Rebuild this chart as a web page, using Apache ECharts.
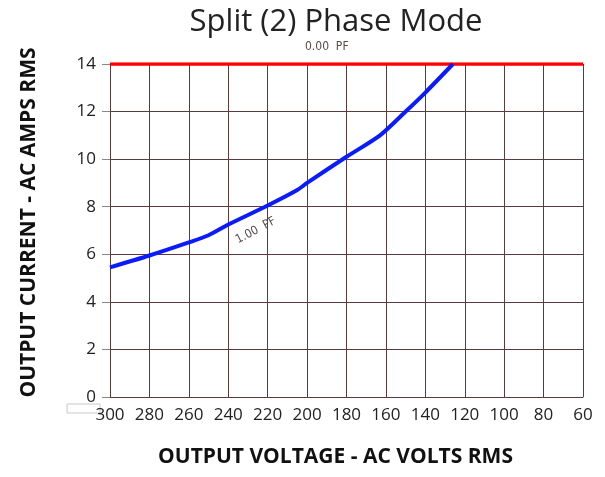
<!DOCTYPE html>
<html>
<head>
<meta charset="utf-8">
<script src="https://cdn.jsdelivr.net/npm/echarts@6/dist/echarts.min.js"></script>
<style>
  html, body { margin: 0; padding: 0; background: #fff; }
  #chart { width: 605px; height: 477px; }
</style>
</head>
<body>
<div id="chart"></div>
<script>
// output voltage (V) vs output current (A)
const voltsPf1 = [300, 280, 260, 250, 240, 220, 205, 200, 180, 163, 150, 140, 126]
const ampsPf1 = [5.45, 5.95, 6.5, 6.8, 7.25, 8.05, 8.7, 9.0, 10.1, 11.0, 12.0, 12.8, 14]
const voltsPf0 = [300, 60]
const ampsPf0 = [14, 14]

const gridColor = '#5b3b3b'
const chart = echarts.init(document.getElementById('chart'))

const pair = (xs, ys) => xs.map((x, i) => [x, ys[i]])

const option = {
    animation: false,
    title: {
        text: 'Split (2) Phase Mode',
        left: 331,
        top: 2,
        textAlign: 'center',
        textStyle: { fontFamily: 'Open Sans', fontWeight: 'normal', fontSize: 31, color: '#222' }
    },
    grid: { left: 110, right: 22, top: 64, bottom: 80 },
    xAxis: {
        type: 'value',
        inverse: true,
        min: 60,
        max: 300,
        interval: 20,
        name: 'OUTPUT VOLTAGE - AC VOLTS RMS',
        nameLocation: 'middle',
        nameGap: 50,
        nameTextStyle: { fontFamily: 'Open Sans', fontWeight: 'bold', fontSize: 21, color: '#111', padding: [0, 22, 0, 0] },
        axisLine: { show: true, lineStyle: { color: gridColor, width: 1 } },
        axisTick: { show: false },
        axisLabel: { fontFamily: 'Open Sans', fontSize: 17, color: '#222', margin: 10 },
        splitLine: { show: true, lineStyle: { color: gridColor, width: 1 } }
    },
    yAxis: {
        type: 'value',
        min: 0,
        max: 14,
        interval: 2,
        name: 'OUTPUT CURRENT - AC AMPS RMS',
        nameLocation: 'middle',
        nameGap: 70,
        nameTextStyle: { fontFamily: 'Open Sans', fontWeight: 'bold', fontSize: 21, color: '#111', padding: [0, 0, 0, 16] },
        axisLine: { show: true, lineStyle: { color: gridColor, width: 1 } },
        axisTick: { show: true, length: 8, lineStyle: { color: '#888' } },
        axisLabel: { fontFamily: 'Open Sans', fontSize: 17, color: '#222', margin: 14 },
        splitLine: { show: true, lineStyle: { color: gridColor, width: 1 } }
    },
    series: [
        {
            name: '0.00 PF',
            type: 'line',
            data: pair(voltsPf0, ampsPf0),
            symbol: 'none',
            lineStyle: { color: '#ff0000', width: 3.5 },
            z: 3,
            markPoint: {
                symbol: 'circle',
                symbolSize: 0,
                data: [{ coord: [190, 14] }],
                label: {
                    show: true,
                    formatter: '0.00  PF',
                    offset: [0, -17],
                    fontFamily: 'DejaVu Sans Condensed',
                    fontSize: 12,
                    color: '#5a4a4a'
                }
            }
        },
        {
            name: '1.00 PF',
            type: 'line',
            data: pair(voltsPf1, ampsPf1),
            symbol: 'none',
            smooth: 0.25,
            lineStyle: { color: '#0a1cff', width: 4 },
            z: 4,
            markPoint: {
                symbol: 'circle',
                symbolSize: 0,
                data: [{ coord: [226, 7.0] }],
                label: {
                    show: true,
                    formatter: '1.00  PF',
                    rotate: 28,
                    fontFamily: 'DejaVu Sans Condensed',
                    fontSize: 12,
                    color: '#5a4a4a'
                }
            }
        }
    ],
    graphic: [
        {
            type: 'rect',
            shape: { x: 67, y: 404, width: 33, height: 9 },
            style: { fill: '#fff', stroke: '#c8c8c8', lineWidth: 1 }
        }
    ]
}

chart.setOption(option)
window.addEventListener('resize', () => {
    chart.resize()
})
</script>
</body>
</html>
